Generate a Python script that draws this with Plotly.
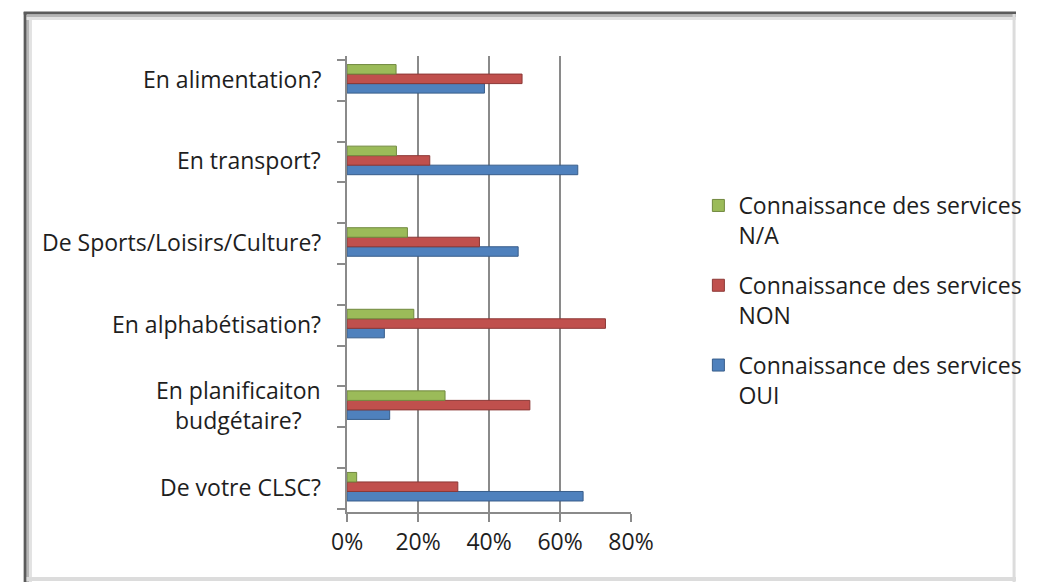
import plotly.graph_objects as go

W, H = 1039, 582

# Categories listed bottom-to-top (Plotly draws index 0 at the bottom)
categories = [
    "De votre CLSC?",
    "En planificaiton<br>budgétaire?",
    "En alphabétisation?",
    "De Sports/Loisirs/Culture?",
    "En transport?",
    "En alimentation?",
]
oui = [66.5, 12.0, 10.5, 48.2, 65.0, 38.7]
non = [31.2, 51.5, 72.8, 37.3, 23.3, 49.3]
na = [2.7, 27.6, 18.8, 17.0, 13.9, 13.8]

series_names = [
    "Connaissance des services<br>OUI",
    "Connaissance des services<br>NON",
    "Connaissance des services<br>N/A",
]
colors = ["#4F81BD", "#C0504D", "#9BBB59"]
edge_colors = ["#385D8A", "#8C3836", "#71893F"]
legend_ranks = [3, 2, 1]
x_ticks = [0, 20, 40, 60, 80]
x_ticktext = [f"{v}%" for v in x_ticks]

FONT = "Open Sans"
FS = 23
TXT = "#1e1e1e"
GRID = "#8a8a8a"

def px_x(p):
    return p / W

def px_y(p):
    return 1 - p / H

fig = go.Figure()
for vals, name, c, ec, g, rk in zip([oui, non, na], series_names, colors, edge_colors,
                                    ["a", "b", "c"], legend_ranks):
    fig.add_trace(go.Bar(
        y=categories, x=vals, name=name, orientation="h",
        marker=dict(color=c, line=dict(color=ec, width=1)),
        legendgroup=g, legendrank=rk,
    ))

# helper trace for the category tick marks axis
fig.add_trace(go.Scatter(x=[None], y=[None], yaxis="y2", showlegend=False, hoverinfo="skip"))

yr = [-0.31, 5.28]
tick_marks = [-0.27 + 0.5 * k for k in range(2 * len(categories))]

annotations = []
for cat in categories:
    annotations.append(dict(
        x=0, y=cat, xref="x", yref="y", text=cat, showarrow=False,
        xanchor="right", yanchor="middle", align="center", xshift=-24,
        font=dict(family=FONT, size=FS, color=TXT),
    ))

shapes = [
    dict(type="line", xref="paper", yref="paper", x0=px_x(8), x1=px_x(1039), y0=px_y(13), y1=px_y(13),
         line=dict(color="#5b5b5b", width=3)),
    dict(type="line", xref="paper", yref="paper", x0=px_x(9.5), x1=px_x(9.5), y0=px_y(12), y1=px_y(582),
         line=dict(color="#5b5b5b", width=3)),
    dict(type="line", xref="paper", yref="paper", x0=px_x(11), x1=px_x(1039), y0=px_y(16), y1=px_y(16),
         line=dict(color="#b5b5b5", width=2)),
    dict(type="line", xref="paper", yref="paper", x0=px_x(12.5), x1=px_x(12.5), y0=px_y(15), y1=px_y(582),
         line=dict(color="#b5b5b5", width=2)),
    dict(type="line", xref="paper", yref="paper", x0=px_x(11), x1=px_x(1039), y0=px_y(18.5), y1=px_y(18.5),
         line=dict(color="#e2e2e2", width=3)),
    dict(type="line", xref="paper", yref="paper", x0=px_x(15), x1=px_x(15), y0=px_y(17), y1=px_y(582),
         line=dict(color="#e2e2e2", width=3)),
    dict(type="line", xref="paper", yref="paper", x0=px_x(1037), x1=px_x(1037), y0=px_y(14), y1=px_y(582),
         line=dict(color="#dcdcdc", width=3)),
    dict(type="line", xref="paper", yref="paper", x0=px_x(11), x1=px_x(1039), y0=px_y(579), y1=px_y(579),
         line=dict(color="#dcdcdc", width=4)),
]

fig.update_layout(
    width=W, height=H, autosize=False,
    margin=dict(l=0, r=0, t=0, b=0),
    paper_bgcolor="white", plot_bgcolor="white",
    barmode="group", bargap=0.65, bargroupgap=0,
    font=dict(family=FONT, size=FS, color=TXT),
    xaxis=dict(
        domain=[px_x(344), px_x(639)], range=[0, 80],
        tickmode="array", tickvals=x_ticks, ticktext=x_ticktext,
        showgrid=True, gridcolor=GRID, gridwidth=2,
        zeroline=False, showline=True, linecolor=GRID, linewidth=2,
        ticks="outside", ticklen=8, tickcolor=GRID, tickwidth=2,
        tickfont=dict(family=FONT, size=FS, color=TXT),
        fixedrange=True,
    ),
    yaxis=dict(
        domain=[px_y(512), px_y(56)], range=yr,
        showticklabels=False, showgrid=False, zeroline=False,
        showline=True, linecolor=GRID, linewidth=2,
        ticks="", fixedrange=True,
    ),
    yaxis2=dict(
        overlaying="y", side="left", range=yr, anchor="x",
        tickvals=tick_marks, showticklabels=False, ticks="outside",
        ticklen=9, tickcolor=GRID, tickwidth=2,
        showgrid=False, zeroline=False, showline=False, fixedrange=True,
    ),
    legend=dict(
        x=px_x(709), y=px_y(184), xanchor="left", yanchor="top",
        traceorder="grouped", tracegroupgap=17, valign="top",
        font=dict(family=FONT, size=FS, color=TXT),
        bgcolor="rgba(0,0,0,0)",
    ),
    annotations=annotations,
    shapes=shapes,
    showlegend=True,
)

fig.write_html("out.html")
